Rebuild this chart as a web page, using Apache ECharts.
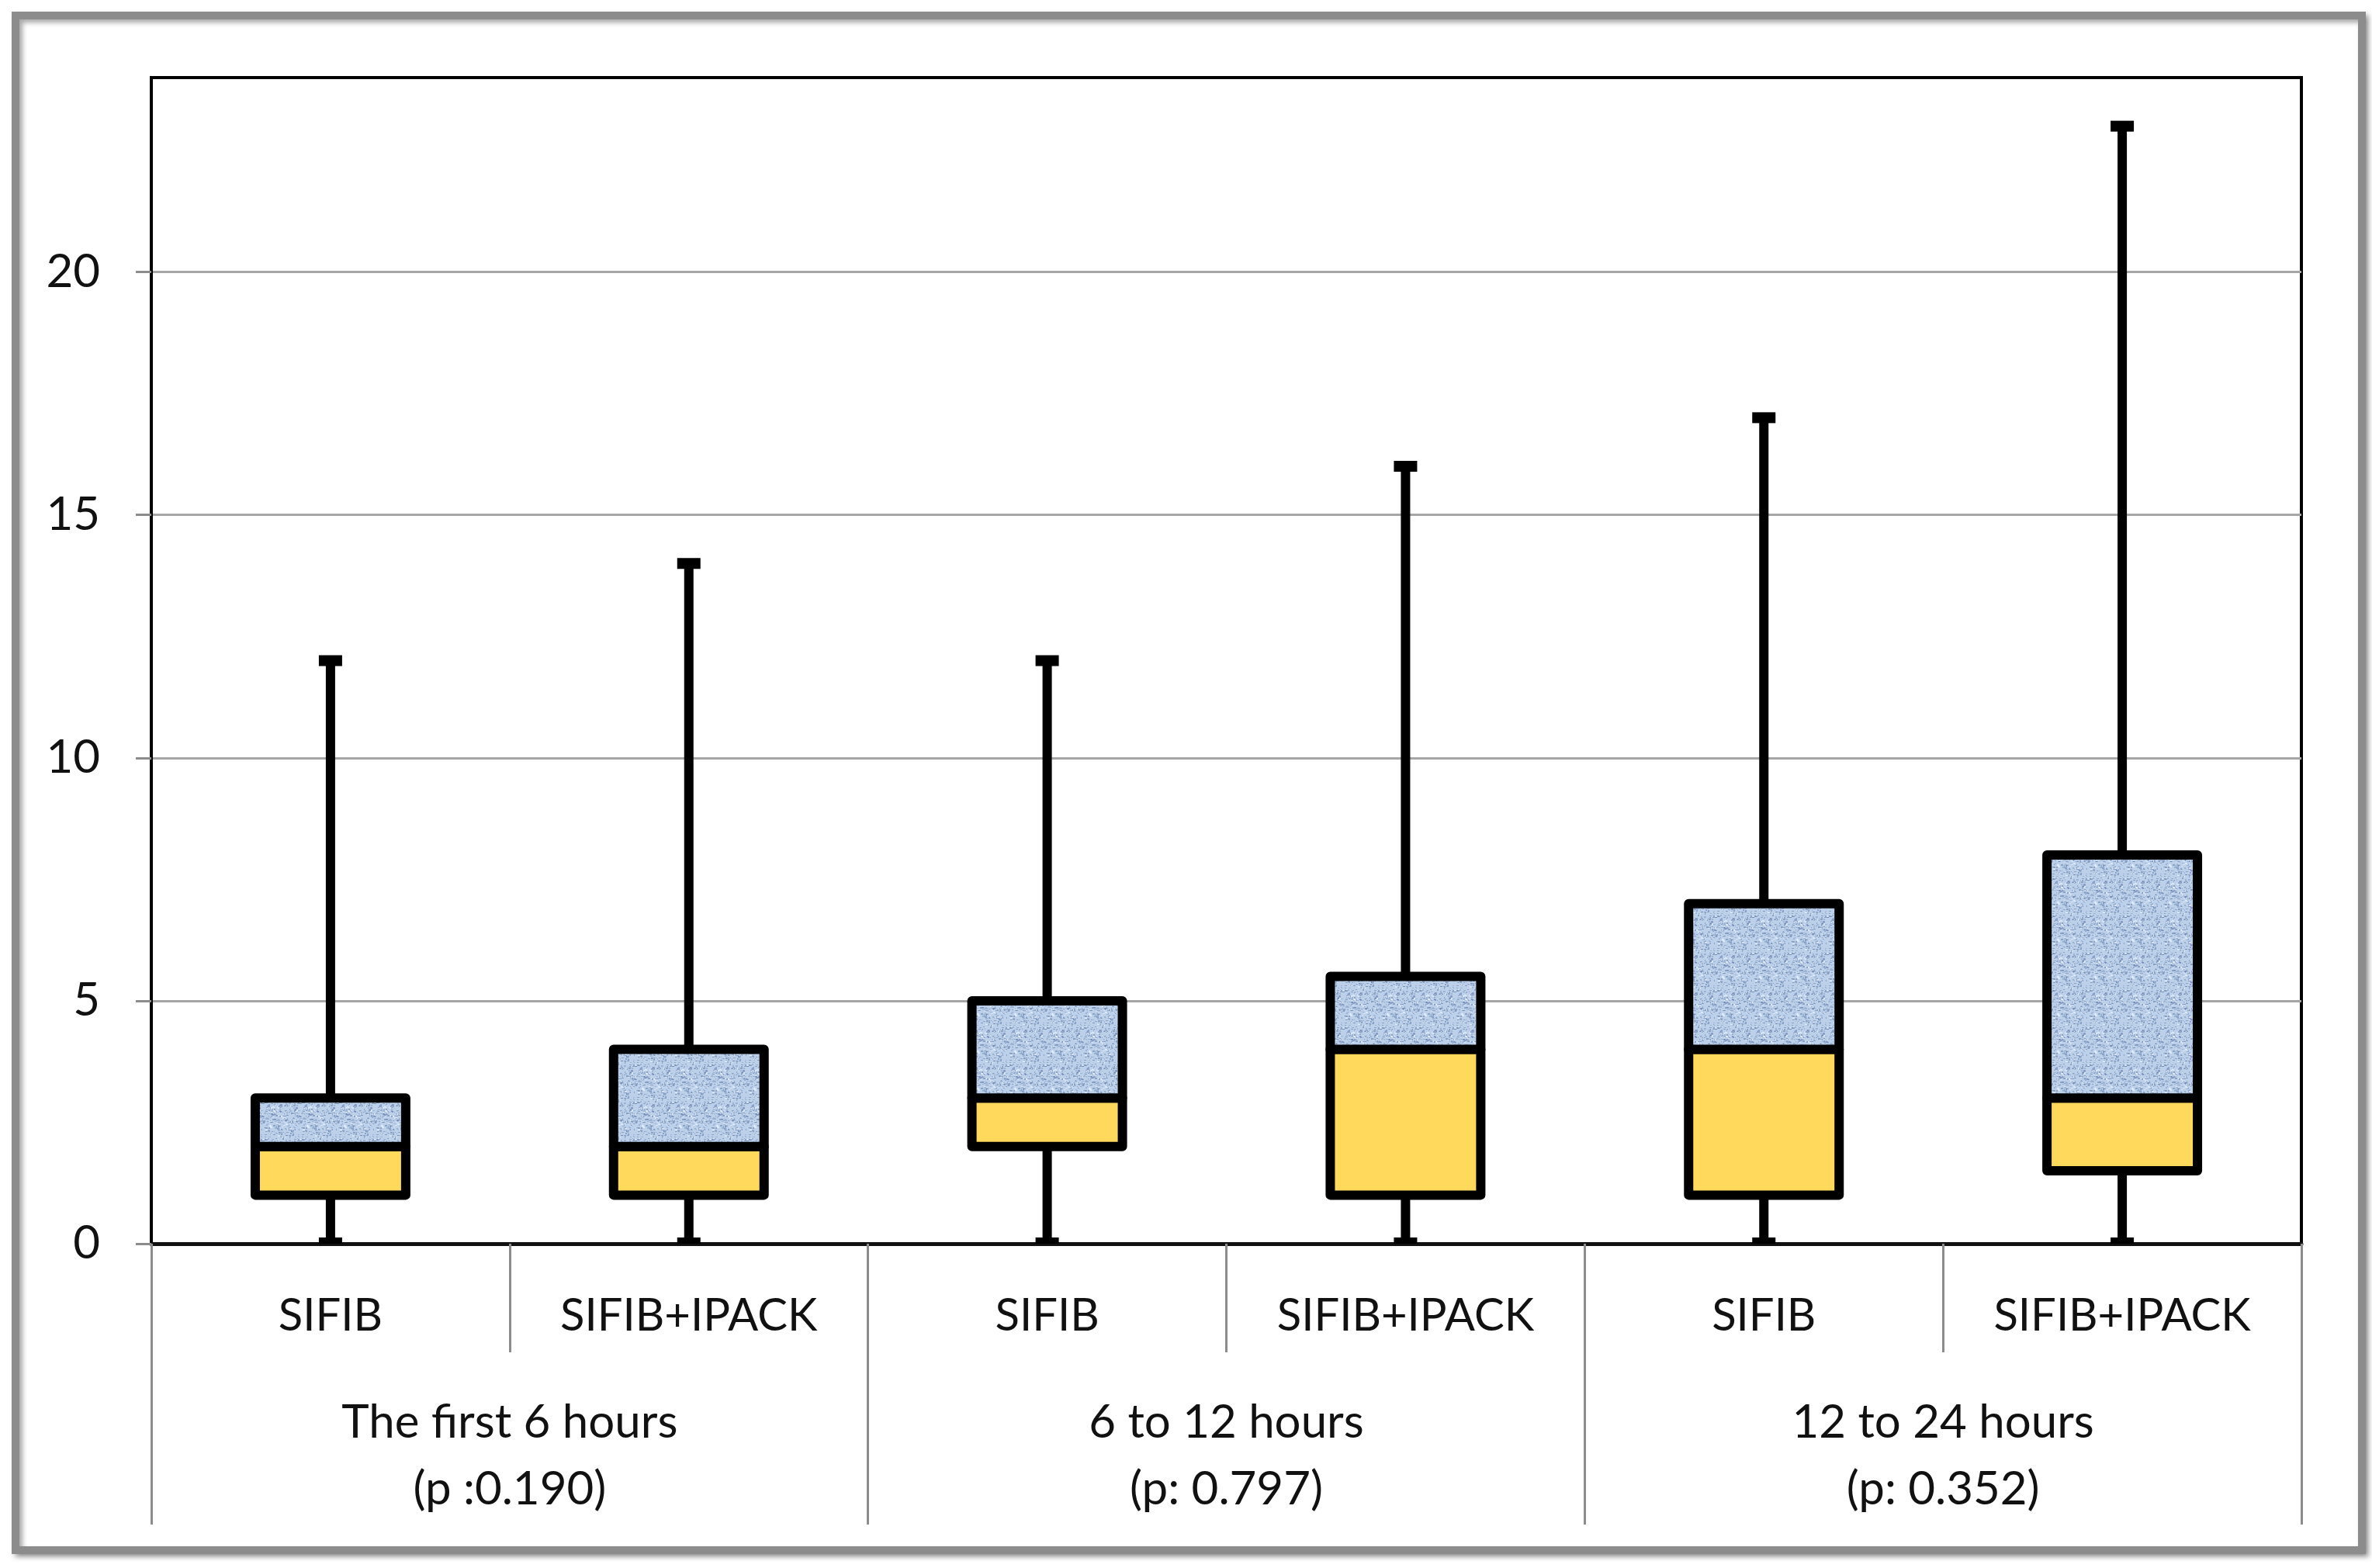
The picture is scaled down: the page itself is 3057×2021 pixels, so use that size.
<!DOCTYPE html>
<html>
<head>
<meta charset="utf-8">
<script src="https://cdn.jsdelivr.net/npm/echarts@6/dist/echarts.min.js"></script>
<style>
html,body{margin:0;padding:0;background:#fff;}
#chart{width:3057px;height:2021px;}
</style>
</head>
<body>
<div id="chart"></div>
<script>
// ---- data ----
const groupLabels = ['The first 6 hours\n(p :0.190)', '6 to 12 hours\n(p: 0.797)', '12 to 24 hours\n(p: 0.352)'];
const categories = ['SIFIB', 'SIFIB+IPACK', 'SIFIB', 'SIFIB+IPACK', 'SIFIB', 'SIFIB+IPACK'];
const minValues    = [0, 0, 0, 0, 0, 0];
const q1Values     = [1, 1, 2, 1, 1, 1.5];
const medianValues = [2, 2, 3, 4, 4, 3];
const q3Values     = [3, 4, 5, 5.5, 7, 8];
const maxValues    = [12, 14, 12, 16, 17, 23];
const yTicks = [0, 5, 10, 15, 20];

// ---- texture for upper box part ----
function makeTexture() {
  const c = document.createElement('canvas');
  c.width = 48; c.height = 48;
  const g = c.getContext('2d');
  g.fillStyle = '#BCD0EA';
  g.fillRect(0, 0, 48, 48);
  let s = 12345;
  function next() { s = (s * 1103515245 + 12345) % 2147483648; return s / 2147483648; }
  for (let i = 0; i < 320; i++) {
    const x = Math.floor(next() * 48), y = Math.floor(next() * 48);
    const w = 1 + Math.floor(next() * 3), h = 1 + Math.floor(next() * 2);
    const t = next();
    g.fillStyle = t < 0.5 ? 'rgba(105,132,175,0.6)' : (t < 0.8 ? 'rgba(140,163,200,0.65)' : 'rgba(225,234,248,0.85)');
    g.fillRect(x, y, w, h);
  }
  return c;
}
const texture = makeTexture();

const boxData = categories.map((c, i) => [i, minValues[i], q1Values[i], medianValues[i], q3Values[i], maxValues[i]]);

const FONT = "'Lato', sans-serif";

function renderItem(params, api) {
  const idx = api.value(0);
  const pMin = api.coord([idx, api.value(1)]);
  const pQ1 = api.coord([idx, api.value(2)]);
  const pMed = api.coord([idx, api.value(3)]);
  const pQ3 = api.coord([idx, api.value(4)]);
  const pMax = api.coord([idx, api.value(5)]);
  const cx = pMin[0];
  const bw = api.size([1, 0])[0] * 0.42;
  const capW = 30, capH = 14;
  return {
    type: 'group',
    children: [
      { type: 'line', shape: { x1: cx, y1: pMin[1], x2: cx, y2: pMax[1] }, style: { stroke: '#000', lineWidth: 12 } },
      { type: 'rect', shape: { x: cx - capW / 2, y: pMax[1] - capH / 2, width: capW, height: capH }, style: { fill: '#000' } },
      { type: 'rect', shape: { x: cx - capW / 2, y: pMin[1] - 8, width: capW, height: 8 }, style: { fill: '#000' } },
      { type: 'rect', shape: { x: cx - bw / 2, y: pMed[1], width: bw, height: pQ1[1] - pMed[1] },
        style: { fill: '#FFD95C', stroke: '#000', lineWidth: 12, lineJoin: 'round' } },
      { type: 'rect', shape: { x: cx - bw / 2, y: pQ3[1], width: bw, height: pMed[1] - pQ3[1] },
        style: { fill: { image: texture, repeat: 'repeat' }, stroke: '#000', lineWidth: 12, lineJoin: 'round' } }
    ]
  };
}

const chart = echarts.init(document.getElementById('chart'), null, { renderer: 'canvas' });
chart.setOption({
  backgroundColor: '#fff',
  animation: false,
  graphic: [{
    type: 'rect', z: -10,
    shape: { x: 20, y: 20, width: 3024, height: 1978 },
    style: { fill: '#fff', stroke: '#8C8C8C', lineWidth: 10, shadowBlur: 6, shadowOffsetX: 4, shadowOffsetY: 4, shadowColor: 'rgba(0,0,0,0.35)' }
  }],
  grid: { left: 195, right: 91, top: 100, bottom: 418, show: true, borderColor: '#000', borderWidth: 4, backgroundColor: 'transparent' },
  xAxis: [{
    type: 'category', data: categories, position: 'bottom',
    axisLine: { show: true, lineStyle: { color: '#111', width: 5 } },
    axisTick: { show: true, interval: 0, alignWithLabel: false, length: 140, lineStyle: { color: '#8C8C8C', width: 3 } },
    axisLabel: { interval: 0, margin: 64, fontSize: 58, color: '#111', fontFamily: FONT },
    splitLine: { show: false }
  }, {
    type: 'category', data: groupLabels, position: 'bottom',
    axisLine: { show: false },
    axisTick: { show: true, interval: 0, alignWithLabel: false, length: 362, lineStyle: { color: '#8C8C8C', width: 3 } },
    axisLabel: { interval: 0, margin: 188, fontSize: 60, lineHeight: 86, color: '#111', fontFamily: FONT },
    splitLine: { show: false }
  }],
  yAxis: {
    type: 'value', min: 0, max: 24, interval: 5,
    axisLine: { show: true, lineStyle: { color: '#000', width: 3 } },
    axisTick: { show: true, length: 20, lineStyle: { color: '#8C8C8C', width: 3 }, customValues: yTicks },
    axisLabel: { margin: 66, fontSize: 60, color: '#111', fontFamily: FONT, customValues: yTicks },
    splitLine: { show: true, lineStyle: { color: '#A6A6A6', width: 3 } }
  },
  series: [{
    type: 'custom', renderItem: renderItem, data: boxData,
    encode: { x: 0, y: [1, 2, 3, 4, 5] }, clip: false, z: 5
  }]
});
</script>
</body>
</html>
